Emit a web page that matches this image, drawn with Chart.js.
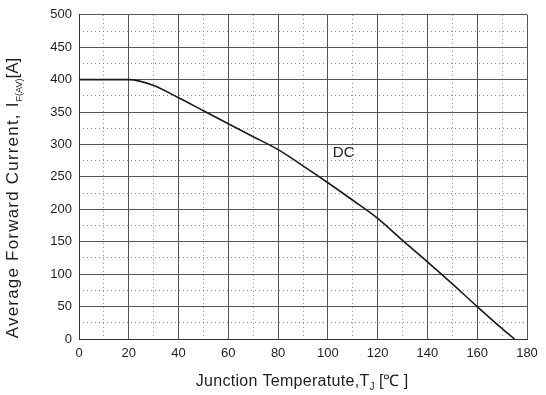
<!DOCTYPE html>
<html>
<head>
<meta charset="utf-8">
<script src="https://cdn.jsdelivr.net/npm/chart.js@4/dist/chart.umd.min.js"></script>
<style>
  html, body { margin: 0; padding: 0; background: #fff; }
  #wrap { width: 546px; height: 395px; position: relative; }
</style>
</head>
<body>
<div id="wrap"><canvas id="c"></canvas></div>
<script>
// Data
const temperatures = [0, 20, 30, 40, 50, 60, 70, 80, 90, 100, 110, 120, 130, 140, 150, 160, 170, 175];
const currents     = [400, 400, 391, 372, 352, 332, 312, 292, 267, 241, 214, 186, 152, 119, 85, 50, 16, 0];
const xTicks = [0, 20, 40, 60, 80, 100, 120, 140, 160, 180];
const yTicks = [0, 50, 100, 150, 200, 250, 300, 350, 400, 450, 500];
const seriesLabel = 'DC';
const xTitle = ['Junction Temperatute,T', 'J', ' [\u2103 ]'];
const yTitle = ['Average Forward Current, I', 'F(AV)', '[A]'];

const FONT = '"Liberation Sans", Arial, sans-serif';
const TXT = '#1e1e1e';

const titlesPlugin = {
  id: 'titles',
  afterDraw(chart) {
    const ctx = chart.ctx;
    const xs = chart.scales.x, ys = chart.scales.y;
    ctx.save();
    ctx.fillStyle = TXT;
    ctx.textBaseline = 'alphabetic';
    ctx.textAlign = 'left';
    function drawParts(parts, cx, cy, bigSize, smallSize, spacing, subDrop) {
      const big = bigSize + 'px ' + FONT, small = smallSize + 'px ' + FONT;
      ctx.font = big; ctx.letterSpacing = spacing + 'px';
      const w0 = ctx.measureText(parts[0]).width;
      ctx.font = small; ctx.letterSpacing = '0px';
      const w1 = ctx.measureText(parts[1]).width;
      ctx.font = big; ctx.letterSpacing = '0px';
      const w2 = ctx.measureText(parts[2]).width;
      let x = cx - (w0 + w1 + w2) / 2;
      ctx.font = big; ctx.letterSpacing = spacing + 'px'; ctx.fillText(parts[0], x, cy); x += w0;
      ctx.font = small; ctx.letterSpacing = '0px'; ctx.fillText(parts[1], x, cy + subDrop); x += w1;
      ctx.font = big; ctx.fillText(parts[2], x, cy);
    }
    // x title
    drawParts(xTitle, 302, 386, 16, 10, 0.3, 4);
    // y title
    ctx.save();
    ctx.translate(18, 198);
    ctx.rotate(-Math.PI / 2);
    drawParts(yTitle, 0, 0, 17, 9, 1.2, 4);
    ctx.restore();
    // series label
    ctx.letterSpacing = '0px';
    ctx.font = '15px ' + FONT;
    ctx.textBaseline = 'middle';
    ctx.fillText(seriesLabel, xs.getPixelForValue(102), ys.getPixelForValue(287));
    ctx.restore();
  }
};

const bgPlugin = {
  id: 'bg',
  beforeDraw(chart) {
    const ctx = chart.ctx;
    ctx.save();
    ctx.fillStyle = '#fff';
    ctx.fillRect(0, 0, chart.width, chart.height);
    ctx.restore();
  }
};

new Chart(document.getElementById('c'), {
  type: 'line',
  data: {
    datasets: [{
      label: seriesLabel,
      data: temperatures.map((t, i) => ({ x: t, y: currents[i] })),
      borderColor: '#1a1a1a',
      borderWidth: 1.6,
      pointRadius: 0,
      cubicInterpolationMode: 'monotone',
      fill: false
    }]
  },
  options: {
    responsive: true,
    maintainAspectRatio: false,
    animation: false,
    events: [],
    layout: { padding: { left: 0, top: 13, right: 19, bottom: 0 } },
    plugins: { legend: { display: false }, tooltip: { enabled: false } },
    scales: {
      x2: {
        type: 'linear', position: 'bottom', min: 0, max: 180,
        ticks: { display: false, stepSize: 10 },
        grid: { color: '#8a8a8a', lineWidth: 1, drawTicks: false },
        border: { display: false, dash: [1, 3] },
        afterFit(s) { s.height = 0; }
      },
      y2: {
        type: 'linear', position: 'left', min: 0, max: 500,
        ticks: { display: false, stepSize: 25 },
        grid: { color: '#8a8a8a', lineWidth: 1, drawTicks: false },
        border: { display: false, dash: [1, 3] },
        afterFit(s) { s.width = 0; }
      },
      x: {
        type: 'linear', position: 'bottom', min: 0, max: 180,
        afterBuildTicks(s) { s.ticks = xTicks.map(v => ({ value: v })); },
        ticks: { color: TXT, font: { family: FONT, size: 13 }, padding: 7, maxRotation: 0 },
        grid: { color: '#555', lineWidth: 1, drawTicks: false },
        border: { display: true, color: '#333', width: 1 },
        afterFit(s) { s.height = 56; }
      },
      y: {
        type: 'linear', position: 'left', min: 0, max: 500,
        afterBuildTicks(s) { s.ticks = yTicks.map(v => ({ value: v })); },
        ticks: { color: TXT, font: { family: FONT, size: 13 }, padding: 7 },
        grid: { color: '#555', lineWidth: 1, drawTicks: false },
        border: { display: true, color: '#333', width: 1 },
        afterFit(s) { s.width = 79; }
      }
    }
  },
  plugins: [bgPlugin, titlesPlugin]
});
</script>
</body>
</html>
